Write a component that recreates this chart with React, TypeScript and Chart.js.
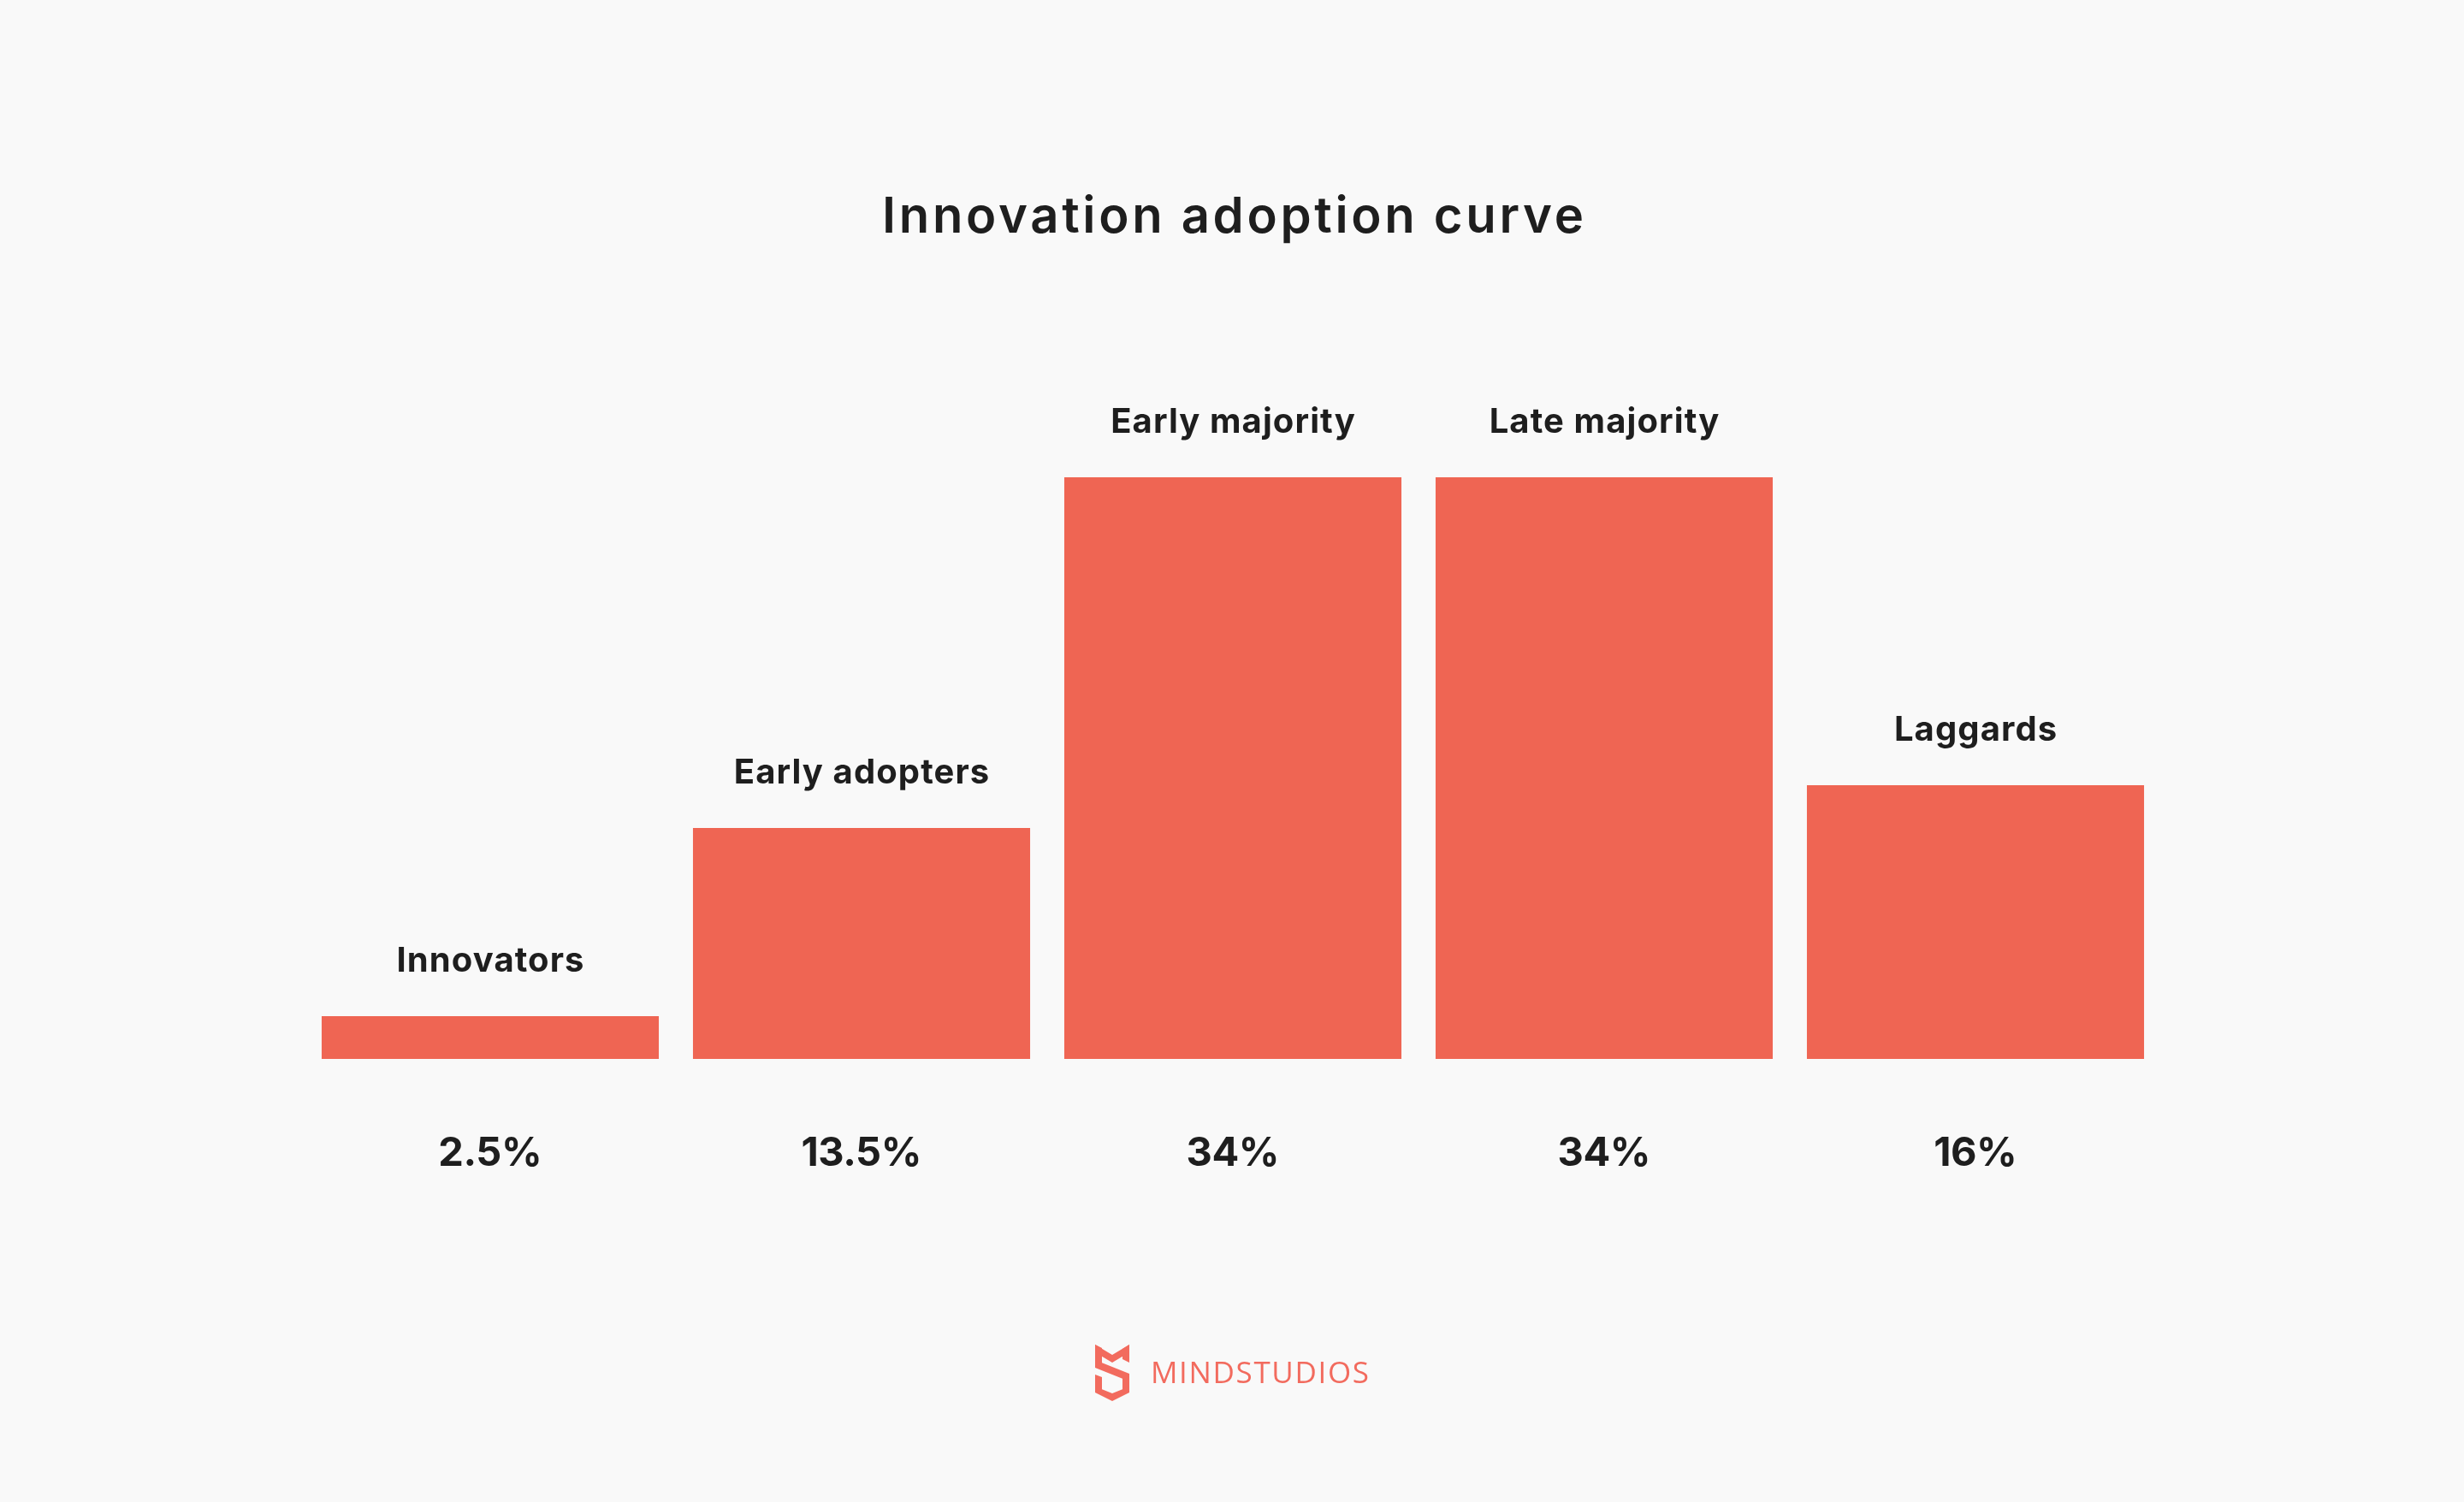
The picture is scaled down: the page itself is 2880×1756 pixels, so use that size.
import React, { useEffect, useRef } from "react";
import { Chart, registerables } from "chart.js";

Chart.register(...registerables);

// ---- data ----
const categories = ["Innovators", "Early adopters", "Early majority", "Late majority", "Laggards"];
const shares = [2.5, 13.5, 34, 34, 16];
const valueLabels = ["2.5%", "13.5%", "34%", "34%", "16%"];
const chartTitle = "Innovation adoption curve";
const brandStrong = "MIND";
const brandLight = "STUDIOS";

const BG = "#F9F9F9";
const BAR = "#EF6553";
const INK = "#1E1E1E";
const BRAND = "#F26B5E";

const W = 2880;
const H = 1756;

function drawIcon(ctx: CanvasRenderingContext2D, ox: number, oy: number) {
  const polys: number[][][] = [
    [[0, 0], [20, 12], [40, 0], [40, 9], [20, 21], [0, 9]],
    [[0, 0], [8, 4], [8, 27], [0, 27]],
    [[32, 5], [40, 0], [40, 21], [32, 17]],
    [[0, 18], [40, 34], [40, 43], [0, 27]],
    [[32, 36], [40, 36], [40, 56], [32, 56]],
    [[0, 49], [20, 57], [40, 49], [40, 56], [20, 66], [0, 56]],
    [[0, 35], [8, 38], [8, 54], [0, 54]],
  ];
  ctx.save();
  ctx.fillStyle = BRAND;
  for (const p of polys) {
    ctx.beginPath();
    p.forEach(([x, y], i) => (i === 0 ? ctx.moveTo(ox + x, oy + y) : ctx.lineTo(ox + x, oy + y)));
    ctx.closePath();
    ctx.fill();
  }
  ctx.restore();
}

function fillSpaced(ctx: CanvasRenderingContext2D, text: string, x: number, y: number, spacing: number) {
  (ctx as any).letterSpacing = `${spacing}px`;
  // compensate trailing spacing for centered text
  ctx.fillText(text, x + spacing / 2, y);
  (ctx as any).letterSpacing = "0px";
}

const backgroundPlugin = {
  id: "pageBackground",
  beforeDraw(chart: any) {
    const ctx = chart.ctx;
    ctx.save();
    ctx.fillStyle = BG;
    ctx.fillRect(0, 0, chart.width, chart.height);
    ctx.restore();
  },
};

const annotationsPlugin = {
  id: "annotations",
  afterDatasetsDraw(chart: any) {
    const ctx: CanvasRenderingContext2D = chart.ctx;
    const xs = chart.scales.x;
    const ys = chart.scales.y;
    const area = chart.chartArea;
    const cx = (area.left + area.right) / 2;
    ctx.save();
    ctx.fillStyle = INK;
    ctx.textAlign = "center";
    ctx.textBaseline = "alphabetic";

    ctx.font = "600 58px Inter";
    (ctx as any).letterSpacing = "0px";
    const tw = ctx.measureText(chartTitle).width;
    const tSpacing = (820 - tw) / (chartTitle.length - 1);
    fillSpaced(ctx, chartTitle, cx, 272, tSpacing);

    categories.forEach((c, i) => {
      const px = xs.getPixelForValue(i);
      const top = ys.getPixelForValue(shares[i]);
      ctx.font = "700 40px Inter";
      fillSpaced(ctx, c, px, top - 52, 1.1);
      ctx.font = "700 47px Inter";
      fillSpaced(ctx, valueLabels[i], px, ys.getPixelForValue(0) + 125, -0.5);
    });

    // brand logo
    ctx.textAlign = "left";
    const targetTextW = 255;
    const fs = 35;
    (ctx as any).letterSpacing = "0px";
    ctx.font = `500 ${fs}px 'Open Sans'`;
    const w1 = ctx.measureText(brandStrong).width;
    ctx.font = `400 ${fs}px 'Open Sans'`;
    const w2 = ctx.measureText(brandLight).width;
    const spacing = (targetTextW - (w1 + w2)) / 10;
    const iconW = 40;
    const gap = 25;
    const total = iconW + gap + targetTextW;
    const startX = 1440 - total / 2;
    drawIcon(ctx, startX, 1572);
    ctx.fillStyle = BRAND;
    (ctx as any).letterSpacing = `${spacing}px`;
    ctx.font = `500 ${fs}px 'Open Sans'`;
    const tx = startX + iconW + gap;
    ctx.fillText(brandStrong, tx, 1617);
    const m1 = ctx.measureText(brandStrong).width;
    ctx.font = `400 ${fs}px 'Open Sans'`;
    ctx.fillText(brandLight, tx + m1, 1617);
    ctx.restore();
  },
};

export default function App() {
  const canvasRef = useRef<HTMLCanvasElement | null>(null);

  useEffect(() => {
    document.body.style.margin = "0";
    document.body.style.background = BG;
    const canvas = canvasRef.current;
    if (!canvas) return;
    const chart = new Chart(canvas, {
      type: "bar",
      data: {
        labels: categories,
        datasets: [
          {
            data: shares,
            backgroundColor: BAR,
            borderWidth: 0,
            barPercentage: 0.908,
            categoryPercentage: 1,
            clip: false as any,
          },
        ],
      },
      options: {
        animation: false,
        responsive: false,
        maintainAspectRatio: false,
        devicePixelRatio: 1,
        layout: { padding: { left: 356, right: 354, top: 558, bottom: 518 } },
        plugins: {
          legend: { display: false },
          title: { display: false },
          tooltip: { enabled: false },
        },
        scales: {
          x: { display: false, grid: { display: false } },
          y: { display: false, min: 0, max: 34, grid: { display: false } },
        },
      },
      plugins: [backgroundPlugin, annotationsPlugin],
    });
    return () => chart.destroy();
  }, []);

  return (
    <div style={{ width: W, height: H, background: BG }}>
      <canvas ref={canvasRef} width={W} height={H} style={{ width: W, height: H, display: "block" }} />
    </div>
  );
}
